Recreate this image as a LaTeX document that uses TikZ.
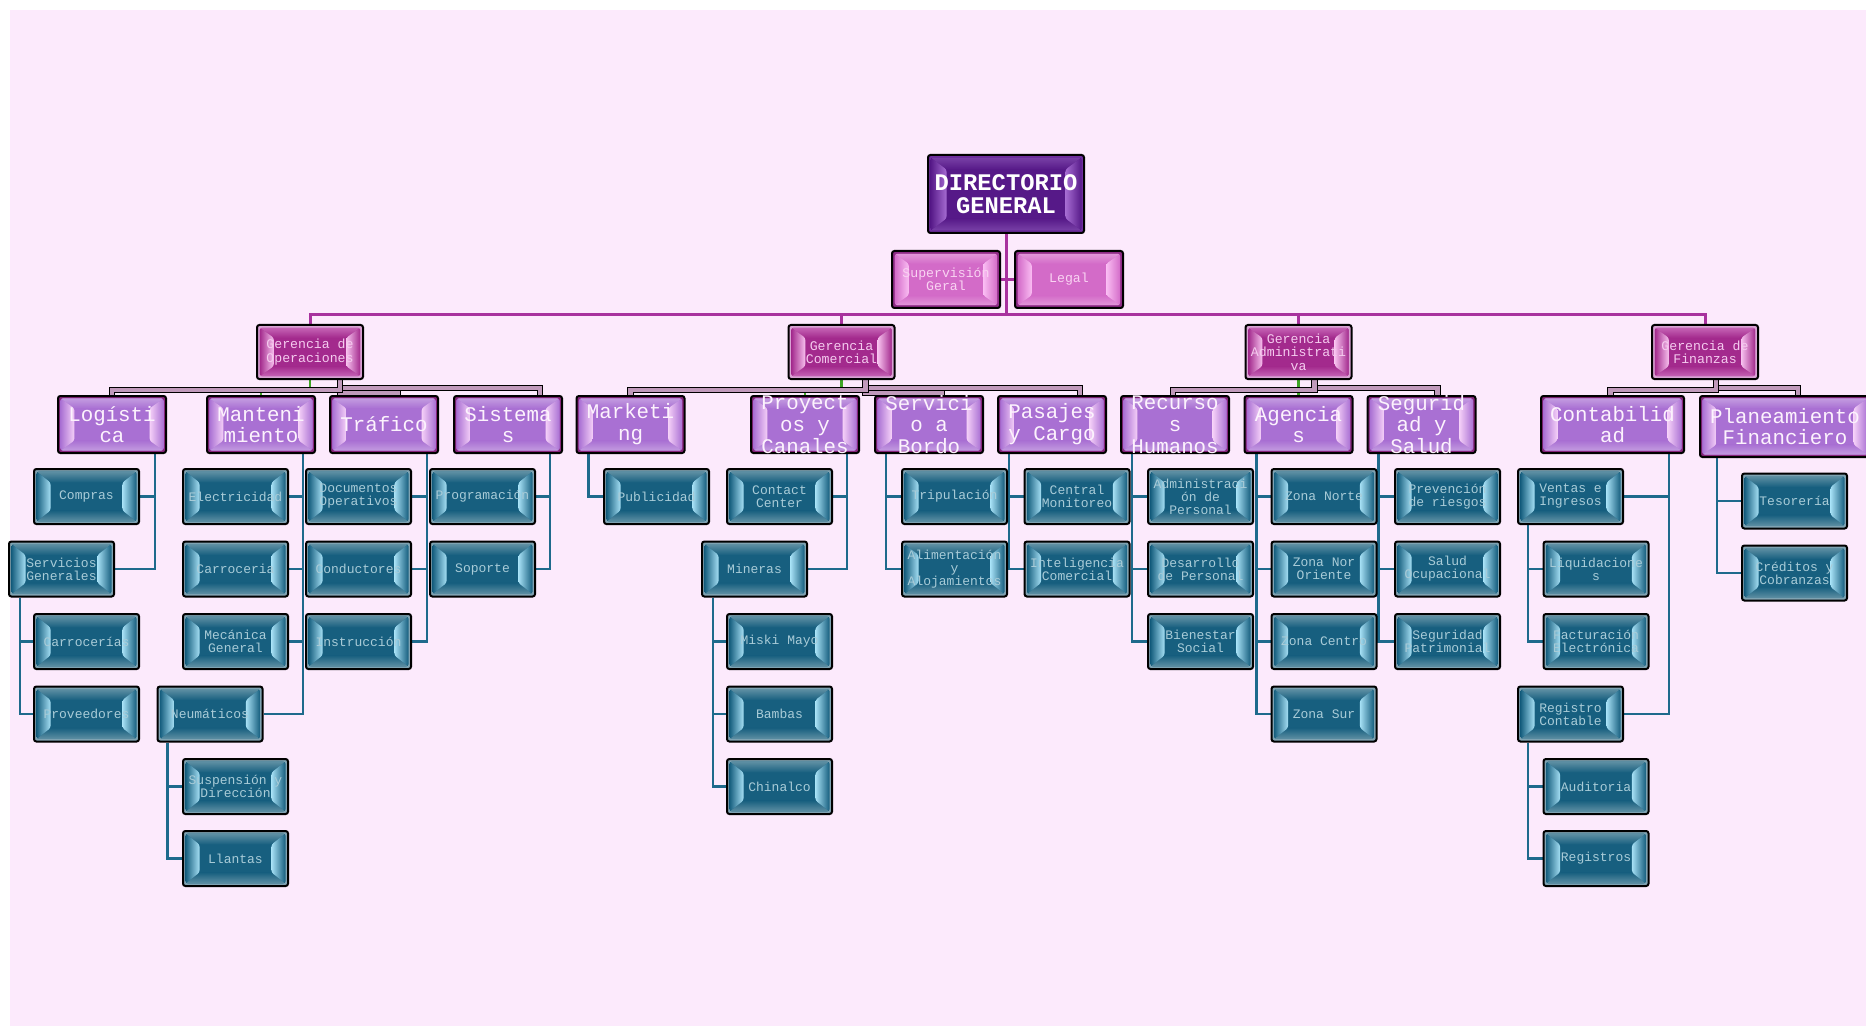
\documentclass[tikz,border=0pt]{standalone}
\usepackage{fontspec}
\newfontfamily\cour{Liberation Mono}
\usetikzlibrary{calc}
\pgfdeclarelayer{bg}
\pgfsetlayers{bg,main}
\definecolor{bgpink}{HTML}{FCEAFC}
\definecolor{leafframe}{HTML}{7FA3B2}
\definecolor{leafface}{HTML}{175F7F}
\definecolor{leafhl}{HTML}{A6E0F5}
\definecolor{leaftop}{HTML}{5E8FA3}
\definecolor{leaftext}{HTML}{A9CCD8}
\definecolor{deptframe}{HTML}{85257A}
\definecolor{deptface}{HTML}{A970D3}
\definecolor{depthl}{HTML}{F5D0F8}
\definecolor{depttop}{HTML}{C39BE0}
\definecolor{depttext}{HTML}{FCF2FD}
\definecolor{mgrframe}{HTML}{D9A3D4}
\definecolor{mgrface}{HTML}{A32A8D}
\definecolor{mgrhl}{HTML}{F7C0EE}
\definecolor{mgrtop}{HTML}{C563B5}
\definecolor{mgrtext}{HTML}{F5CBEF}
\definecolor{dirframe}{HTML}{6E2E9E}
\definecolor{dirface}{HTML}{561988}
\definecolor{dirhl}{HTML}{A66CD2}
\definecolor{dirtop}{HTML}{7840A6}
\definecolor{supframe}{HTML}{8E2C86}
\definecolor{supface}{HTML}{D36BC8}
\definecolor{suphl}{HTML}{FABDF3}
\definecolor{suptop}{HTML}{E295D9}
\definecolor{suptext}{HTML}{F9D3F2}
\definecolor{busc}{HTML}{A8329E}
\definecolor{tealc}{HTML}{1E6A8C}
\definecolor{barc}{HTML}{C09ABB}
\definecolor{greenc}{HTML}{3FA626}
% #1 frame, #2 inset x, #3 inset y, #4 face, #5 side highlight, #6 top/bottom bevel
\newcommand\bvbox[6]{%
  \coordinate (bvSW) at ($(path picture bounding box.south west)+(#1,#1)$);
  \coordinate (bvNE) at ($(path picture bounding box.north east)-(#1,#1)$);
  \coordinate (bvsw) at ($(bvSW)+(#2,#3)$);
  \coordinate (bvne) at ($(bvNE)-(#2,#3)$);
  \fill[#4] (bvSW) rectangle (bvNE);
  \shade[top color=#6, bottom color=#4] (bvSW |- bvNE) -- (bvNE) -- (bvne) -- (bvsw |- bvne) -- cycle;
  \shade[top color=#4, bottom color=#6] (bvSW) -- (bvNE |- bvSW) -- (bvne |- bvsw) -- (bvsw) -- cycle;
  \shade[left color=#4, right color=#5] (bvSW) -- (bvsw) -- (bvsw |- bvne) -- (bvSW |- bvNE) -- cycle;
  \shade[left color=#5, right color=#4] (bvNE |- bvSW) -- (bvne |- bvsw) -- (bvne) -- (bvNE) -- cycle;
}
\tikzset{
 box/.style={rectangle, draw=black, line width=1pt, rounded corners=1.2pt, inner xsep=0pt, inner ysep=-30pt, align=center},
 leaf/.style={box, minimum width=52.5pt, minimum height=27.5pt, fill=leafframe, text=leaftext,
   font=\cour\fontsize{6.5}{6.5}\selectfont,
   path picture={\bvbox{1.3pt}{7pt}{5.5pt}{leafface}{leafhl}{leaftop}}},
 dept/.style={box, minimum width=54pt, minimum height=28.5pt, fill=deptframe, text=depttext,
   font=\cour\fontsize{10.4}{10.9}\selectfont,
   path picture={\bvbox{1.2pt}{7pt}{5pt}{deptface}{depthl}{depttop}}},
 mgr/.style={box, minimum width=53pt, minimum height=27pt, fill=mgrframe, text=mgrtext,
   font=\cour\fontsize{6.6}{6.7}\selectfont,
   path picture={\bvbox{1.4pt}{7pt}{5pt}{mgrface}{mgrhl}{mgrtop}}},
 sup/.style={box, minimum width=54pt, minimum height=28.5pt, fill=supframe, text=suptext,
   font=\cour\fontsize{6.6}{6.7}\selectfont,
   path picture={\bvbox{1.4pt}{7pt}{5pt}{supface}{suphl}{suptop}}},
 dirbox/.style={box, minimum width=78pt, minimum height=39pt, fill=dirframe, text=white,
   font=\cour\bfseries\fontsize{11.9}{11.2}\selectfont,
   path picture={\bvbox{1.3pt}{8pt}{6pt}{dirface}{dirhl}{dirtop}}},
 bus/.style={draw=busc, line width=1.5pt},
 tl/.style={draw=tealc, line width=1.4pt},
 bar/.style={draw=black, line width=0.6pt, double=barc, double distance=2.2pt},
 gl/.style={draw=greenc, line width=1.2pt},
}
\begin{document}
\begin{tikzpicture}[x=0.5pt,y=-0.5pt]
\useasboundingbox (0,0) rectangle (1866,1026);
% ---------- nodes ----------
\node[dirbox] (dir) at (1006,194) {DIRECTORIO\\GENERAL};
\node[sup] (sup) at (946,279.5) {Supervisión\\Geral};
\node[sup] (legal) at (1069,279.5) {Legal};
\node[mgr] (gop) at (310,352) {Gerencia de\\Operaciones};
\node[mgr] (gcom) at (841.5,352) {Gerencia\\Comercial};
\node[mgr] (gadm) at (1298.5,352) {Gerencia\\Administrati\\va};
\node[mgr] (gfin) at (1705,352) {Gerencia de\\Finanzas};
% departments
\node[dept] (log) at (112,424.5) {Logísti\\ca};
\node[dept] (man) at (261,424.5) {Manteni\\miento};
\node[dept] (tra) at (384,424.5) {Tráfico};
\node[dept] (sis) at (508,424.5) {Sistema\\s};
\node[dept] (mkt) at (630.5,424.5) {Marketi\\ng};
\node[dept] (pro) at (805,424.5) {Proyect\\os y\\Canales};
\node[dept] (ser) at (929,424.5) {Servici\\o a\\Bordo};
\node[dept] (pas) at (1052,424.5) {Pasajes\\y Cargo};
\node[dept] (rh) at (1175,424.5) {Recurso\\s\\Humanos};
\node[dept] (age) at (1298.5,424.5) {Agencia\\s};
\node[dept] (seg) at (1421.5,424.5) {Segurid\\ad y\\Salud};
\node[dept, minimum width=71.5pt] (cont) at (1612.5,424.5) {Contabilid\\ad};
\node[dept, minimum width=85pt, minimum height=30.5pt] (plan) at (1785,426.5) {Planeamiento\\Financiero};
% leaves
\node[leaf] (compras) at (86.5,496.5) {Compras};
\node[leaf] (sg) at (61.5,569) {Servicios\\Generales};
\node[leaf] (carrs) at (86.5,641.5) {Carrocerías};
\node[leaf] (prov) at (86.5,714) {Proveedores};
\node[leaf] (elec) at (235.5,496.5) {Electricidad};
\node[leaf] (carr) at (235.5,569) {Carroceria};
\node[leaf] (mec) at (235.5,641.5) {Mecánica\\General};
\node[leaf] (neu) at (210,714) {Neumáticos};
\node[leaf] (susp) at (235.5,786.5) {Suspensión y\\Dirección};
\node[leaf] (llan) at (235.5,858.5) {Llantas};
\node[leaf] (doc) at (358.5,496.5) {Documentos\\Operativos};
\node[leaf] (cond) at (358.5,569) {Conductores};
\node[leaf] (instr) at (358.5,641.5) {Instrucción};
\node[leaf] (prog) at (482.5,496.5) {Programación};
\node[leaf] (sop) at (482.5,569) {Soporte};
\node[leaf] (pub) at (656.5,496.5) {Publicidad};
\node[leaf] (cc) at (779.5,496.5) {Contact\\Center};
\node[leaf] (mine) at (754.5,569) {Mineras};
\node[leaf] (miski) at (779.5,641.5) {Miski Mayo};
\node[leaf] (bambas) at (779.5,714) {Bambas};
\node[leaf] (chin) at (779.5,786.5) {Chinalco};
\node[leaf] (trip) at (954.5,496.5) {Tripulación};
\node[leaf] (alim) at (954.5,569) {Alimentación\\y\\Alojamientos};
\node[leaf] (cmon) at (1077,496.5) {Central\\Monitoreo};
\node[leaf] (icom) at (1077,569) {Inteligencia\\Comercial};
\node[leaf] (admp) at (1200.5,496.5) {Administraci\\ón de\\Personal};
\node[leaf] (desp) at (1200.5,569) {Desarrollo\\de Personal};
\node[leaf] (bien) at (1200.5,641.5) {Bienestar\\Social};
\node[leaf] (zn) at (1324,496.5) {Zona Norte};
\node[leaf] (zno) at (1324,569) {Zona Nor\\Oriente};
\node[leaf] (zc) at (1324,641.5) {Zona Centro};
\node[leaf] (zs) at (1324,714) {Zona Sur};
\node[leaf] (prev) at (1447.5,496.5) {Prevención\\de riesgos};
\node[leaf] (salud) at (1447.5,569) {Salud\\Ocupacional};
\node[leaf] (segp) at (1447.5,641.5) {Seguridad\\Patrimonial};
\node[leaf] (ven) at (1570.5,496.5) {Ventas e\\Ingresos};
\node[leaf] (liq) at (1596,569) {Liquidacione\\s};
\node[leaf] (fac) at (1596,641.5) {Facturación\\Electrónica};
\node[leaf] (reg) at (1570.5,714) {Registro\\Contable};
\node[leaf] (aud) at (1596,786.5) {Auditoria};
\node[leaf] (regs) at (1596,858.5) {Registros};
\node[leaf] (tes) at (1794.5,501) {Tesorería};
\node[leaf] (cred) at (1794.5,573) {Créditos y\\Cobranzas};
% ---------- background and connectors ----------
\begin{pgfonlayer}{bg}
\fill[white] (0,0) rectangle (1866,1026);
\fill[bgpink] (10,10) rectangle (1866,1026);
\coordinate (busy) at (0,315);
\draw[bus] (dir.south) -- (dir.south |- busy);
\draw[bus] (dir.south |- busy) -| (gop.north);
\draw[bus] (dir.south |- busy) -| (gcom.north);
\draw[bus] (dir.south |- busy) -| (gadm.north);
\draw[bus] (dir.south |- busy) -| (gfin.north);
\draw[bus] (sup.east) -- (legal.west);
% green hidden connectors
\draw[gl] (gop.south) -- ++(0,12) -| (man.north);
\draw[gl] (gcom.south) -- ++(0,12) -| (pro.north);
\draw[gl] (gadm.south) -- (age.north);
% mauve bars
\draw[bar] ([xshift=15pt]gop.south) -- ++(0,8) -| ([xshift=16pt]sis.north);
\draw[bar] ([xshift=15pt]gop.south) -- ++(0,13) -| ([xshift=7pt]tra.north);
\draw[bar] ([xshift=15pt]gop.south) -- ++(0,10) -| (log.north);
\draw[bar] ([xshift=12pt]gcom.south) -- ++(0,8) -| ([xshift=14pt]pas.north);
\draw[bar] ([xshift=12pt]gcom.south) -- ++(0,13) -| ([xshift=6.5pt]ser.north);
\draw[bar] ([xshift=12pt]gcom.south) -- ++(0,10) -| (mkt.north);
\draw[bar] ([xshift=8pt]gadm.south) -- ++(0,8) -| ([xshift=8pt]seg.north);
\draw[bar] ([xshift=8pt]gadm.south) -- ++(0,10) -| ([xshift=-1pt]rh.north);
\draw[bar] ([xshift=5.5pt]gfin.south) -- ++(0,8) -| ([xshift=6.5pt]plan.north);
\draw[bar] ([xshift=5.5pt]gfin.south) -- ++(0,10) -| ([xshift=-1pt]cont.north);
% teal connectors
\draw[tl] ([xshift=-6pt]log.south east) |- (compras.east);
\draw[tl] ([xshift=-6pt]log.south east) |- (sg.east);
\draw[tl] ([xshift=6pt]sg.south west) |- (carrs.west);
\draw[tl] ([xshift=6pt]sg.south west) |- (prov.west);
\draw[tl] ([xshift=-6.5pt]man.south east) |- (elec.east);
\draw[tl] ([xshift=-6.5pt]man.south east) |- (carr.east);
\draw[tl] ([xshift=-6.5pt]man.south east) |- (mec.east);
\draw[tl] ([xshift=-6.5pt]man.south east) |- (neu.east);
\draw[tl] ([xshift=5.5pt]neu.south west) |- (susp.west);
\draw[tl] ([xshift=5.5pt]neu.south west) |- (llan.west);
\draw[tl] ([xshift=-6pt]tra.south east) |- (doc.east);
\draw[tl] ([xshift=-6pt]tra.south east) |- (cond.east);
\draw[tl] ([xshift=-6pt]tra.south east) |- (instr.east);
\draw[tl] ([xshift=-6.5pt]sis.south east) |- (prog.east);
\draw[tl] ([xshift=-6.5pt]sis.south east) |- (sop.east);
\draw[tl] ([xshift=6.5pt]mkt.south west) |- (pub.west);
\draw[tl] ([xshift=-6.5pt]pro.south east) |- (cc.east);
\draw[tl] ([xshift=-6.5pt]pro.south east) |- (mine.east);
\draw[tl] ([xshift=6pt]mine.south west) |- (miski.west);
\draw[tl] ([xshift=6pt]mine.south west) |- (bambas.west);
\draw[tl] ([xshift=6pt]mine.south west) |- (chin.west);
\draw[tl] ([xshift=6pt]ser.south west) |- (trip.west);
\draw[tl] ([xshift=6pt]ser.south west) |- (alim.west);
\draw[tl] ([xshift=6pt]pas.south west) |- (cmon.west);
\draw[tl] ([xshift=6pt]pas.south west) |- (icom.west);
\draw[tl] ([xshift=6pt]rh.south west) |- (admp.west);
\draw[tl] ([xshift=6pt]rh.south west) |- (desp.west);
\draw[tl] ([xshift=6pt]rh.south west) |- (bien.west);
\draw[tl] ([xshift=6.5pt]age.south west) |- (zn.west);
\draw[tl] ([xshift=6.5pt]age.south west) |- (zno.west);
\draw[tl] ([xshift=6.5pt]age.south west) |- (zc.west);
\draw[tl] ([xshift=6.5pt]age.south west) |- (zs.west);
\draw[tl] ([xshift=6pt]seg.south west) |- (prev.west);
\draw[tl] ([xshift=6pt]seg.south west) |- (salud.west);
\draw[tl] ([xshift=6pt]seg.south west) |- (segp.west);
\draw[tl] ([xshift=-8pt]cont.south east) |- (ven.east);
\draw[tl] ([xshift=-8pt]cont.south east) |- (reg.east);
\draw[tl] ([xshift=5.5pt]ven.south west) |- (liq.west);
\draw[tl] ([xshift=5.5pt]ven.south west) |- (fac.west);
\draw[tl] ([xshift=5.5pt]reg.south west) |- (aud.west);
\draw[tl] ([xshift=5.5pt]reg.south west) |- (regs.west);
\draw[tl] ([xshift=9pt]plan.south west) |- (tes.west);
\draw[tl] ([xshift=9pt]plan.south west) |- (cred.west);
\end{pgfonlayer}
\end{tikzpicture}
\end{document}
